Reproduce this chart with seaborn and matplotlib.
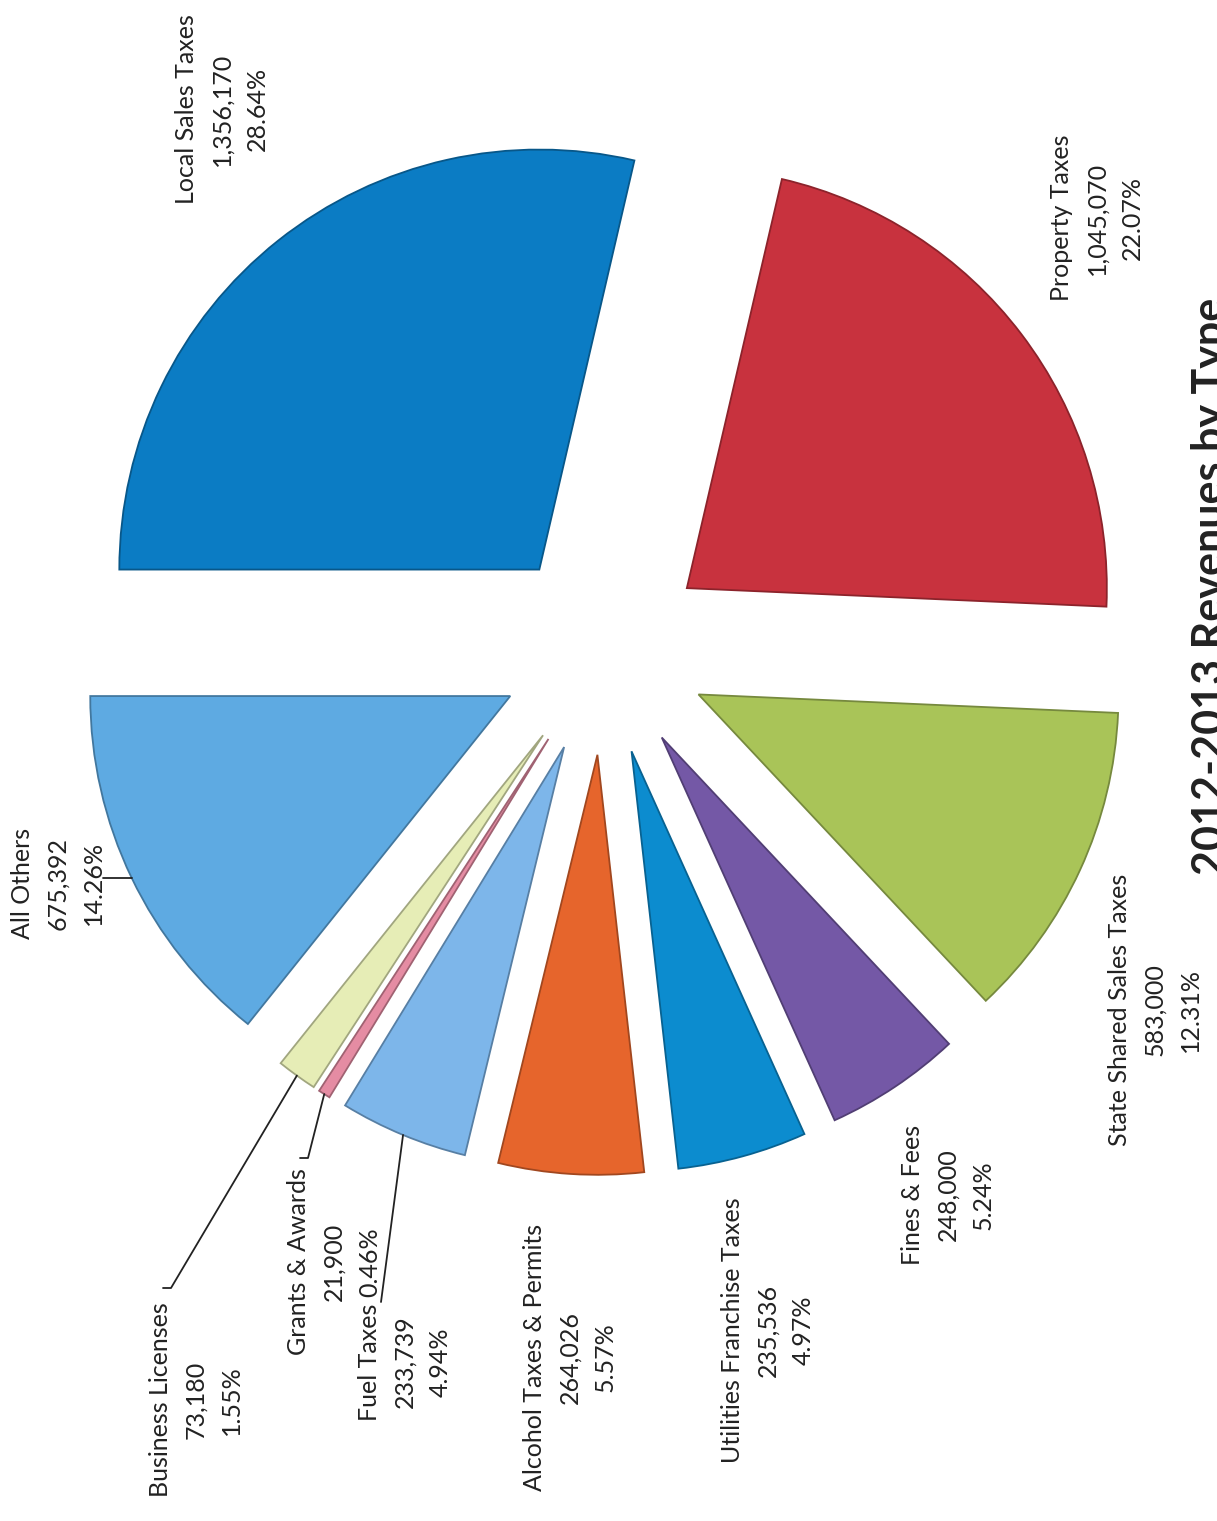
import numpy as np
import matplotlib
matplotlib.use("Agg")
import matplotlib.pyplot as plt
import matplotlib.colors as mcolors
import seaborn as sns

# ---- data ----
categories = ["Property Taxes", "Local Sales Taxes", "All Others", "Business Licenses",
              "Grants & Awards", "Fuel Taxes", "Alcohol Taxes & Permits",
              "Utilities Franchise Taxes", "Fines & Fees", "State Shared Sales Taxes"]
values = [1045070, 1356170, 675392, 73180, 21900, 233739, 264026, 235536, 248000, 583000]
value_labels = ["1,045,070", "1,356,170", "675,392", "73,180", "21,900", "233,739",
                "264,026", "235,536", "248,000", "583,000"]
pct_labels = ["22.07%", "28.64%", "14.26%", "1.55%", "0.46%", "4.94%", "5.57%",
              "4.97%", "5.24%", "12.31%"]
title = "2012-2013 Revenues by Type"

colors = ["#c8323e", "#0b7cc4", "#5eaae2", "#e6edb6", "#e58ca3", "#7db6ea",
          "#e6652c", "#0c8ccf", "#7458a6", "#a9c458"]

sns.set_theme(style="white")
plt.rcParams['font.family'] = ['Lato', 'DejaVu Sans']

W, H = 1217, 1521
fig = plt.figure(figsize=(W / 100, H / 100), dpi=100)
ax = fig.add_axes([0, 0, 1, 1])

def Y(y):
    return H - y

R = 420
cx, cy = 604, Y(651)
total = sum(values)
start = 180 - 360 * (values[0] + values[1]) / total

wedges, _ = ax.pie(values, colors=colors, startangle=start, counterclock=True,
                   explode=[104] * len(values), radius=R, center=(cx, cy),
                   wedgeprops=dict(linewidth=1.3))
for w, c in zip(wedges, colors):
    rgb = np.array(mcolors.to_rgb(c)) * 0.7
    w.set_edgecolor(rgb)

ax.set_xlim(0, W)
ax.set_ylim(0, H)
ax.set_aspect('equal')
ax.axis('off')

# label layout (image pixel coordinates of text block centres)
label_pos = {
    "Property Taxes": (1097, 218),
    "Local Sales Taxes": (222, 109),
    "All Others": (58, 883),
    "Business Licenses": (196, 1400),
    "Grants & Awards": (334, 1262),
    "Fuel Taxes": (405, 1362),
    "Alcohol Taxes & Permits": (570, 1357),
    "Utilities Franchise Taxes": (768, 1330),
    "Fines & Fees": (948, 1195),
    "State Shared Sales Taxes": (1155, 1010),
}
for cat, v, p in zip(categories, value_labels, pct_labels):
    x, y = label_pos[cat]
    ax.text(x, Y(y), f"{cat}\n{v}\n{p}", rotation=90, ha='center', va='center',
            multialignment='center', fontsize=18, color='#222222', linespacing=1.65)

def arc_point(w, frac=1.0):
    th = np.deg2rad(0.5 * (w.theta1 + w.theta2))
    return (w.center[0] + frac * w.r * np.cos(th), w.center[1] + frac * w.r * np.sin(th))

# leader lines
idx = {c: i for i, c in enumerate(categories)}
p = arc_point(wedges[idx["All Others"]])
ax.plot([103, p[0]], [p[1], p[1]], color='#222222', lw=1.3)
p = arc_point(wedges[idx["Business Licenses"]])
ax.plot([163, 171, p[0]], [Y(1288), Y(1288), p[1]], color='#222222', lw=1.3)
p = arc_point(wedges[idx["Grants & Awards"]])
ax.plot([300, 308, p[0]], [Y(1158), Y(1158), p[1]], color='#222222', lw=1.3)
p = arc_point(wedges[idx["Fuel Taxes"]])
ax.plot([381, p[0]], [Y(1302), p[1]], color='#222222', lw=1.3)

ax.text(1191, Y(586), title, rotation=90, ha='left', va='center',
        fontsize=31, fontweight='bold', color='#222222')

fig.savefig("out.png", dpi=100)
